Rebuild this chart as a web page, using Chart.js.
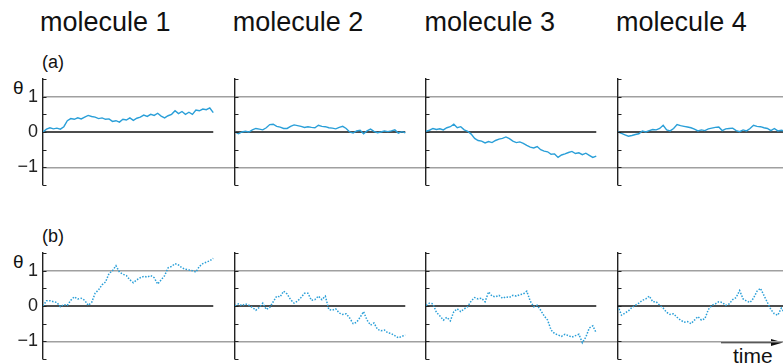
<!DOCTYPE html>
<html>
<head>
<meta charset="utf-8">
<script src="https://cdn.jsdelivr.net/npm/chart.js@4/dist/chart.umd.min.js"></script>
<style>
  html, body { margin: 0; padding: 0; background: #fff; }
  body { width: 783px; height: 364px; position: relative; overflow: hidden; font-family: "Liberation Sans", Arial, sans-serif; }
  canvas { position: absolute; }
  .lbl { position: absolute; white-space: nowrap; color: #111; line-height: 1; }
</style>
</head>
<body>
<svg style="position:absolute;left:0;top:0" width="783" height="364">
  <line x1="721" y1="342.5" x2="776" y2="342.5" stroke="#111" stroke-width="1.3"/>
  <polygon points="783,342.5 771,339 771,346" fill="#111"/>
</svg>
<script>
// molecule titles, row tags, tick labels
const titles = ['molecule 1', 'molecule 2', 'molecule 3', 'molecule 4'];
const rowTags = ['(a)', '(b)'];
const yLabels = [-1, 0, 1];

// row (a): theta traces
const mol1a = [0.0,0.08,0.12,0.09,0.11,0.08,0.15,0.32,0.38,0.36,0.40,0.37,0.42,0.47,0.44,0.42,0.38,0.40,0.36,0.37,0.30,0.32,0.28,0.36,0.34,0.40,0.33,0.39,0.42,0.48,0.44,0.50,0.47,0.53,0.45,0.40,0.46,0.50,0.60,0.52,0.58,0.50,0.56,0.50,0.62,0.60,0.65,0.63,0.68,0.55];
const mol2a = [0.0,-0.05,0.0,0.02,0.0,0.06,0.10,0.08,0.06,0.12,0.21,0.22,0.16,0.14,0.10,0.10,0.16,0.20,0.18,0.16,0.13,0.15,0.13,0.12,0.19,0.16,0.15,0.12,0.11,0.09,0.13,0.16,0.10,0.0,-0.03,0.03,0.05,-0.05,0.03,0.08,0.02,-0.02,0.0,0.03,0.01,0.03,0.06,-0.03,0.01,-0.02];
const mol3a = [0.02,0.05,0.10,0.07,0.09,0.06,0.12,0.15,0.22,0.12,0.15,0.06,0.02,-0.06,-0.18,-0.24,-0.26,-0.31,-0.27,-0.30,-0.24,-0.20,-0.18,-0.14,-0.19,-0.26,-0.30,-0.28,-0.32,-0.38,-0.43,-0.45,-0.41,-0.50,-0.54,-0.56,-0.63,-0.62,-0.72,-0.65,-0.62,-0.58,-0.55,-0.61,-0.59,-0.64,-0.60,-0.66,-0.72,-0.68];
const mol4a = [0.0,-0.04,-0.08,-0.12,-0.10,-0.07,-0.05,0.03,0.0,0.04,0.07,0.06,0.10,0.19,0.06,0.03,0.10,0.21,0.18,0.16,0.14,0.12,0.08,0.03,0.06,0.04,0.09,0.11,0.13,0.14,0.04,0.09,0.10,0.11,0.04,0.01,0.06,0.03,0.10,0.19,0.16,0.15,0.12,0.10,0.04,0.10,0.03,0.05,0.02,0.04];

// row (b)
const mol1b = [0.0,0.15,0.15,0.12,0.10,-0.02,0.04,0.02,0.16,0.26,0.20,0.22,0.16,0.02,0.10,0.36,0.46,0.60,0.68,0.92,1.00,1.14,0.96,0.90,0.86,0.74,0.66,0.74,0.80,0.84,0.82,0.86,0.80,0.62,0.74,0.86,1.08,1.12,1.20,1.16,1.08,1.04,1.02,1.00,0.96,1.12,1.20,1.24,1.28,1.35];
const mol2b = [0.0,0.06,0.01,0.06,0.02,-0.04,-0.12,-0.04,0.08,-0.10,-0.04,0.12,0.28,0.26,0.42,0.34,0.18,0.08,0.14,0.24,0.36,0.36,0.16,0.18,0.28,0.18,0.28,-0.10,-0.12,-0.08,-0.20,-0.24,-0.22,-0.34,-0.50,-0.46,-0.32,-0.16,-0.40,-0.54,-0.48,-0.66,-0.70,-0.68,-0.76,-0.78,-0.84,-0.90,-0.86,-0.82];
const mol3b = [0.02,0.08,0.06,-0.18,-0.28,-0.40,-0.32,-0.42,-0.16,-0.08,-0.16,-0.08,-0.02,0.14,0.24,0.20,0.22,0.12,0.40,0.28,0.26,0.30,0.22,0.26,0.24,0.30,0.28,0.32,0.34,0.42,0.14,-0.02,0.02,-0.12,-0.28,-0.40,-0.68,-0.78,-0.82,-0.86,-0.80,-0.84,-0.88,-0.84,-0.80,-1.04,-0.88,-0.62,-0.56,-0.76];
const mol4b = [0.0,-0.26,-0.20,-0.14,-0.04,0.02,0.08,0.16,0.20,0.28,0.12,0.12,0.02,-0.06,-0.18,-0.24,-0.22,-0.32,-0.40,-0.46,-0.44,-0.50,-0.40,-0.30,-0.40,-0.36,-0.10,0.02,0.06,0.12,0.10,0.02,0.06,0.18,0.24,0.44,0.20,0.14,0.10,0.22,0.42,0.50,0.30,0.10,-0.10,-0.22,-0.26,-0.06,-0.20,-0.10];

const rows = [[mol1a, mol2a, mol3a, mol4a], [mol1b, mol2b, mol3b, mol4b]];

const colLeft = [43, 234.7, 426.4, 618.1];   // y-axis positions
const rowTop = [79, 252.7];                   // top of plot area (theta = 1.5)
const plotW = 191.7, plotH = 106;
const pad = 3;

// small tick marks pointing into the plot
const innerTicks = {
  id: 'innerTicks',
  afterDraw(chart) {
    const y = chart.scales.y, ctx = chart.ctx, x0 = chart.chartArea.left;
    ctx.save();
    ctx.strokeStyle = '#222';
    ctx.lineWidth = 1;
    y.ticks.forEach(t => {
      const py = Math.round(y.getPixelForValue(t.value)) + 0.5;
      ctx.beginPath(); ctx.moveTo(x0, py); ctx.lineTo(x0 + 3.5, py); ctx.stroke();
    });
    ctx.restore();
  }
};

function addText(txt, left, top, size) {
  const d = document.createElement('div');
  d.className = 'lbl';
  d.textContent = txt;
  d.style.left = left + 'px';
  d.style.top = top + 'px';
  d.style.fontSize = size + 'px';
  document.body.appendChild(d);
}

titles.forEach((t, i) => addText(t, colLeft[i] - 3 + (i === 0 ? 0 : 1), 9, 27));
rowTags.forEach((t, r) => {
  addText(t, 42, 53 + (rowTop[r] - rowTop[0]), 18);
  addText('θ', 13, 78 + (rowTop[r] - rowTop[0]), 19);
});
addText('time', 733, 345, 21);

rows.forEach((series, r) => {
  series.forEach((vals, c) => {
    const axisW = c === 0 ? 43 : 8;
    const cv = document.createElement('canvas');
    const w = Math.round(axisW + plotW), h = plotH + 2 * pad;
    cv.width = w; cv.height = h;
    cv.style.left = (colLeft[c] - axisW) + 'px';
    cv.style.top = (rowTop[r] - pad) + 'px';
    cv.style.width = w + 'px'; cv.style.height = h + 'px';
    document.body.appendChild(cv);

    const n = vals.length;
    const xMax = (n - 1) * plotW / 170;
    new Chart(cv, {
      type: 'line',
      data: {
        datasets: [
          { data: vals.map((v, i) => ({ x: i, y: v })), borderColor: '#2a9fd8', borderWidth: r === 0 ? 1.4 : 1.5,
            borderDash: r === 0 ? [] : [1.5, 1.5], pointRadius: 0, tension: 0, order: 0 },
          { data: [{ x: 0, y: 0 }, { x: n - 1, y: 0 }], borderColor: '#111', borderWidth: 1.4, pointRadius: 0, order: 1 }
        ]
      },
      options: {
        responsive: false, animation: false, devicePixelRatio: 1,
        layout: { padding: { top: pad, bottom: pad, left: 0, right: 0 } },
        plugins: { legend: { display: false }, tooltip: { enabled: false } },
        scales: {
          x: { type: 'linear', min: 0, max: xMax, display: false },
          y: {
            min: -1.5, max: 1.5,
            afterFit: s => { s.width = axisW; s.paddingTop = 0; s.paddingBottom = 0; },
            border: { display: true, color: '#222', width: 1.4 },
            grid: { drawTicks: false, lineWidth: 1.5,
              color: ctx => Math.abs(ctx.tick.value) === 1 ? '#a0a0a0' : 'rgba(0,0,0,0)' },
            ticks: {
              display: c === 0, stepSize: 0.5, padding: 5, color: '#222', autoSkip: false,
              font: { family: 'Liberation Sans', size: 18 },
              callback: v => yLabels.includes(v) ? (v < 0 ? '\u2212' + Math.abs(v) : String(v)) : ''
            }
          }
        }
      },
      plugins: [innerTicks]
    });
  });
});
</script>
</body>
</html>
